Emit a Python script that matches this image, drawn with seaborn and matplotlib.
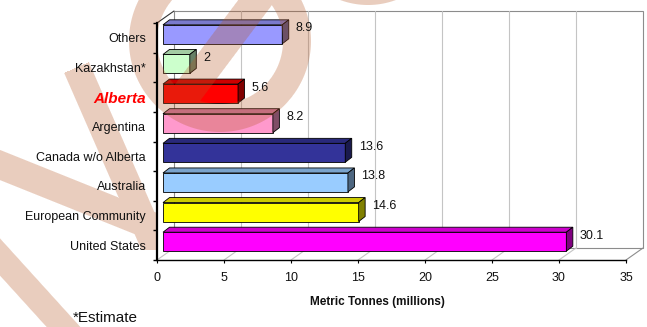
import numpy as np
import pandas as pd
import matplotlib
matplotlib.use("Agg")
import matplotlib.pyplot as plt
import seaborn as sns
from matplotlib.patches import Polygon, Rectangle
from matplotlib.colors import to_rgb

# ---------------- data ----------------
categories = ["Others", "Kazakhstan*", "Alberta", "Argentina",
              "Canada w/o Alberta", "Australia", "European Community", "United States"]
values = [8.9, 2, 5.6, 8.2, 13.6, 13.8, 14.6, 30.1]
value_labels = ["8.9", "2", "5.6", "8.2", "13.6", "13.8", "14.6", "30.1"]
bar_colors = ["#9999FF", "#CCFFCC", "#FF0000", "#FF99CC",
              "#333399", "#99CCFF", "#FFFF00", "#FF00FF"]
x_ticks = [0, 5, 10, 15, 20, 25, 30, 35]
x_label = "Metric Tonnes (millions)"
footnote = "*Estimate"

sns.set_theme(style="white")
plt.rcParams["font.family"] = ["Liberation Sans", "DejaVu Sans"]

W, H = 647, 327
fig = plt.figure(figsize=(W / 100, H / 100), dpi=100)
fig.patch.set_facecolor("white")

# front plane of the 3-D box, in pixels (y measured from the top)
fx0, fx1, fy0, fy1 = 157, 626, 23, 260
ax = fig.add_axes([fx0 / W, 1 - fy1 / H, (fx1 - fx0) / W, (fy1 - fy0) / H])
ax.set_facecolor("none")

df = pd.DataFrame({"category": categories, "value": values})
sns.barplot(data=df, x="value", y="category", hue="category", palette=bar_colors,
            orient="h", width=0.64, legend=False, ax=ax, saturation=1,
            edgecolor="black", linewidth=0.6)

xmax = x_ticks[-1]
n = len(categories)
ax.set_xlim(0, xmax)
ax.set_ylim(n - 0.5, -0.5)

sx = (fx1 - fx0) / xmax          # px per value unit
sy = (fy1 - fy0) / n             # px per category
Dx, Dy = 17 / sx, -12 / sy       # depth of the box
Fx, Fy = 6 / sx, -3.5 / sy       # bar front offset inside the box
dx, dy = 6.5 / sx, -5 / sy       # depth of each bar

# ---- box: back wall, gridlines, floor ----
ytop_b, ybot_b = -0.5 + Dy, n - 0.5 + Dy
ax.add_patch(Rectangle((Dx, ytop_b), xmax, n, facecolor="white", edgecolor="#8c8c8c",
                       linewidth=0.8, clip_on=False, zorder=0.2))
for t in x_ticks[1:-1]:
    ax.plot([t + Dx, t + Dx], [ytop_b, ybot_b], color="#c4c4c4", lw=0.8,
            clip_on=False, zorder=0.3)
for t in x_ticks:
    ax.plot([t, t + Dx], [n - 0.5, n - 0.5 + Dy],
            color="#8c8c8c" if t == xmax else "#c4c4c4", lw=0.8, clip_on=False, zorder=0.3)
ax.plot([0, Dx], [-0.5, -0.5 + Dy], color="#333333", lw=0.8, clip_on=False, zorder=0.3)

# ---- 3-D bars ----
for p in list(ax.patches):
    if not isinstance(p, Rectangle) or p.get_height() > 1:
        continue
    yc = p.get_y() + p.get_height() / 2
    j = int(round(yc))
    if j < 0 or j >= n:
        continue
    p.set_x(p.get_x() + Fx)
    p.set_y(p.get_y() + Fy)
    p.set_zorder(1)
    x0 = p.get_x()
    x1 = x0 + p.get_width()
    yt = p.get_y()
    yb = yt + p.get_height()
    rgb = np.array(to_rgb(bar_colors[j]))
    top = Polygon([(x0, yt), (x1, yt), (x1 + dx, yt + dy), (x0 + dx, yt + dy)],
                  closed=True, facecolor=rgb * 0.8, edgecolor="black", lw=0.6,
                  clip_on=False, zorder=1)
    side = Polygon([(x1, yt), (x1, yb), (x1 + dx, yb + dy), (x1 + dx, yt + dy)],
                   closed=True, facecolor=rgb * 0.5, edgecolor="black", lw=0.6,
                   clip_on=False, zorder=1)
    ax.add_patch(top)
    ax.add_patch(side)
    ax.text(x1 + dx + 7 / sx, j - 9.5 / sy, value_labels[j], ha="left", va="center",
            fontsize=9, color="#111111", zorder=6, clip_on=False)

# ---- axes styling ----
for s in ["top", "right"]:
    ax.spines[s].set_visible(False)
ax.spines["left"].set_color("black")
ax.spines["left"].set_linewidth(1.6)
ax.spines["bottom"].set_color("black")
ax.spines["bottom"].set_linewidth(1.0)
ax.spines["left"].set_zorder(4)
ax.spines["bottom"].set_zorder(4)

ax.set_xticks(x_ticks)
ax.set_xticklabels([str(t) for t in x_ticks])
ax.tick_params(axis="x", which="major", bottom=True, length=2.5, width=0.8,
               direction="out", color="black", labelsize=9, pad=6, labelcolor="#111111")
ax.set_yticks(range(n))
ax.set_yticklabels(categories)
ax.set_yticks(np.arange(-0.5, n, 1), minor=True)
ax.tick_params(axis="y", which="major", left=True, length=0, pad=8, labelsize=9,
               labelcolor="#111111")
ax.tick_params(axis="y", which="minor", left=True, length=3.2, width=1.0,
               direction="out", color="black")
lab = ax.get_yticklabels()[categories.index("Alberta")]
lab.set_color("red")
lab.set_fontweight("bold")
lab.set_fontstyle("italic")
lab.set_fontsize(11)
ax.set_ylabel("")
ax.set_xlabel(x_label, fontsize=8.5, fontweight="bold", color="#111111")
ax.xaxis.set_label_coords((377 - fx0) / (fx1 - fx0), -(302 - fy1) / (fy1 - fy0))
ax.xaxis.label.set_va("center")
ax.xaxis.set_zorder(5)
ax.yaxis.set_zorder(5)

fig.text(73 / W, 1 - 318 / H, footnote, ha="left", va="center", fontsize=11,
         color="#111111", zorder=6)

# ---- background watermark (decorative) ----
yy, xx = np.mgrid[0:H, 0:W] + 0.5


def band(p0, direction, half):
    u = np.asarray(direction, float)
    u = u / np.hypot(*u)
    nx, ny = -u[1], u[0]
    d = np.abs((xx - p0[0]) * nx + (yy - p0[1]) * ny)
    t = (xx - p0[0]) * u[0] + (yy - p0[1]) * u[1]
    return np.clip(half + 0.5 - d, 0, 1), t


r = np.hypot(xx - 220, yy - 41)
ring = np.clip(np.minimum(r - 63, 91 - r) + 0.5, 0, 1)
diag, _ = band((257, 0), (-0.6, 0.8), 15)
diag *= np.clip(91.5 - r, 0, 1)
s1, t1 = band((76.5, 67.5), (0.437, 1.0), 13.5)
s1 *= (t1 >= 0)
b3, _ = band((0, 165), (157, 63), 14)
v_shape = np.maximum(s1, b3) * (yy <= 250) * (xx <= fx0)
b2, _ = band((0, 257), (63.5, 70), 12.5)
r2 = np.hypot(xx - 368, yy + 75)
arc2 = np.clip(np.minimum(r2 - 52, 80 - r2) + 0.5, 0, 1)
cov = np.maximum.reduce([ring, diag, v_shape, b2, arc2])

wm = np.zeros((H, W, 4))
wm[..., 0] = 182 / 255
wm[..., 1] = 88 / 255
wm[..., 2] = 38 / 255
wm[..., 3] = 0.3 * cov

xl = (0 - fx0) / sx
xr = (W - fx0) / sx
yt_img = -0.5 + (0 - fy0) / sy
yb_img = -0.5 + (H - fy0) / sy
ax.imshow(wm, extent=(xl, xr, yb_img, yt_img), origin="upper", aspect="auto",
          interpolation="nearest", zorder=3, clip_on=False)
ax.set_xlim(0, xmax)
ax.set_ylim(n - 0.5, -0.5)

fig.savefig("out.png", dpi=100, facecolor="white")
